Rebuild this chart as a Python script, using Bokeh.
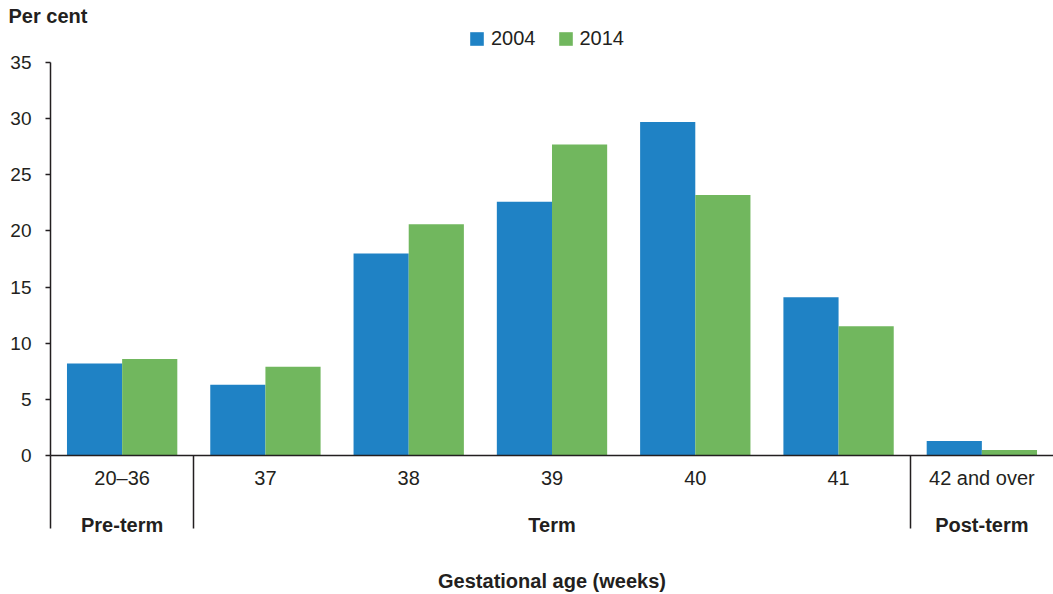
from bokeh.plotting import figure
from bokeh.models import (ColumnDataSource, Range1d, FixedTicker, LinearAxis,
                          Legend, LegendItem)
from bokeh.transform import dodge
from bokeh.embed import file_html
from bokeh.resources import INLINE

# ---- data ----
categories = ["20\u201336", "37", "38", "39", "40", "41", "42 and over"]
values_2004 = [8.2, 6.3, 18.0, 22.6, 29.7, 14.1, 1.3]
values_2014 = [8.6, 7.9, 20.6, 27.7, 23.2, 11.5, 0.5]
series_names = ["2004", "2014"]
group_labels = ["Pre-term", "Term", "Post-term"]
group_members = [[0], [1, 2, 3, 4, 5], [6]]
y_ticks = [0, 5, 10, 15, 20, 25, 30, 35]
y_max = 35

FONT = "Liberation Sans"
TXT = "#231f20"
AX = "#231f20"
BLUE = "#1F82C5"
GREEN = "#71B75E"

# layout (pixels)
W, H = 1053, 594
LEFT, TOP, BOTTOM = 50, 25, 139
AXIS_TOP_PX = 62          # where y_max sits
frame_h = H - TOP - BOTTOM
axis_h = H - BOTTOM - AXIS_TOP_PX
y_end = y_max * frame_h / axis_h

idx = list(range(len(categories)))
src = ColumnDataSource(dict(x=idx, v2004=values_2004, v2014=values_2014))

p = figure(width=W, height=H, output_backend="svg", toolbar_location=None,
           x_range=Range1d(-0.5, len(categories) - 0.5), y_range=Range1d(0, y_end),
           min_border_left=LEFT, min_border_right=0, min_border_top=TOP,
           min_border_bottom=BOTTOM, x_axis_type=None, y_axis_type=None,
           title="Per cent")
p.outline_line_color = None
p.xgrid.visible = False
p.ygrid.visible = False
p.title.align = "left"
p.title.offset = -42
p.title.standoff = -3
p.title.text_font = FONT
p.title.text_font_size = "20px"
p.title.text_font_style = "bold"
p.title.text_color = TXT

bw = 0.385
r1 = p.vbar(x=dodge("x", -bw / 2, range=p.x_range), top="v2004", width=bw,
            source=src, fill_color=BLUE, line_color=None)
r2 = p.vbar(x=dodge("x", bw / 2, range=p.x_range), top="v2014", width=bw,
            source=src, fill_color=GREEN, line_color=None)

# y axis
yax = LinearAxis(ticker=FixedTicker(ticks=y_ticks, minor_ticks=[]),
                 bounds=(0, y_max))
yax.axis_line_color = AX
yax.axis_line_width = 1.5
yax.major_tick_line_color = AX
yax.major_tick_line_width = 1.5
yax.major_tick_out = 5
yax.major_tick_in = 0
yax.minor_tick_line_color = None
yax.major_label_standoff = 14
yax.major_label_text_font = FONT
yax.major_label_text_font_size = "19px"
yax.major_label_text_color = TXT
p.add_layout(yax, "left")

# category axis with separator lines (drawn as long minor ticks)
sep_len = 73
seps = [min(m) - 0.5 for m in group_members]
xax = LinearAxis(ticker=FixedTicker(ticks=idx, minor_ticks=seps))
xax.major_label_overrides = {i: c for i, c in zip(idx, categories)}
xax.axis_line_color = AX
xax.axis_line_width = 1.5
xax.major_tick_line_color = None
xax.major_tick_out = 0
xax.major_tick_in = 0
xax.minor_tick_line_color = AX
xax.minor_tick_line_width = 1.5
xax.minor_tick_out = sep_len
xax.minor_tick_in = 0
xax.major_label_standoff = 12 - sep_len - 1
xax.major_label_text_font = FONT
xax.major_label_text_font_size = "20px"
xax.major_label_text_color = TXT
p.add_layout(xax, "below")

# group axis
gcent = [sum(m) / len(m) for m in group_members]
gax = LinearAxis(ticker=FixedTicker(ticks=gcent, minor_ticks=[]))
gax.major_label_overrides = {c: g for c, g in zip(gcent, group_labels)}
gax.axis_line_color = None
gax.major_tick_line_color = None
gax.minor_tick_line_color = None
gax.major_tick_out = 0
gax.major_tick_in = 0
gax.major_label_standoff = 22
gax.major_label_text_font = FONT
gax.major_label_text_font_size = "20px"
gax.major_label_text_font_style = "bold"
gax.major_label_text_color = TXT
gax.axis_label = "Gestational age (weeks)"
gax.axis_label_standoff = 31
gax.axis_label_text_font = FONT
gax.axis_label_text_font_size = "20px"
gax.axis_label_text_font_style = "bold"
gax.axis_label_text_color = TXT
p.add_layout(gax, "below")

legend = Legend(items=[LegendItem(label=series_names[0], renderers=[r1]),
                       LegendItem(label=series_names[1], renderers=[r2])],
                orientation="horizontal", location=(418, 405),
                glyph_width=17, glyph_height=17, label_standoff=6, spacing=21,
                padding=0, margin=0, border_line_color=None,
                background_fill_alpha=0, label_text_font=FONT,
                label_text_font_size="20px", label_text_color=TXT)
p.add_layout(legend, "center")

open("out.html", "w").write(file_html(p, INLINE))
